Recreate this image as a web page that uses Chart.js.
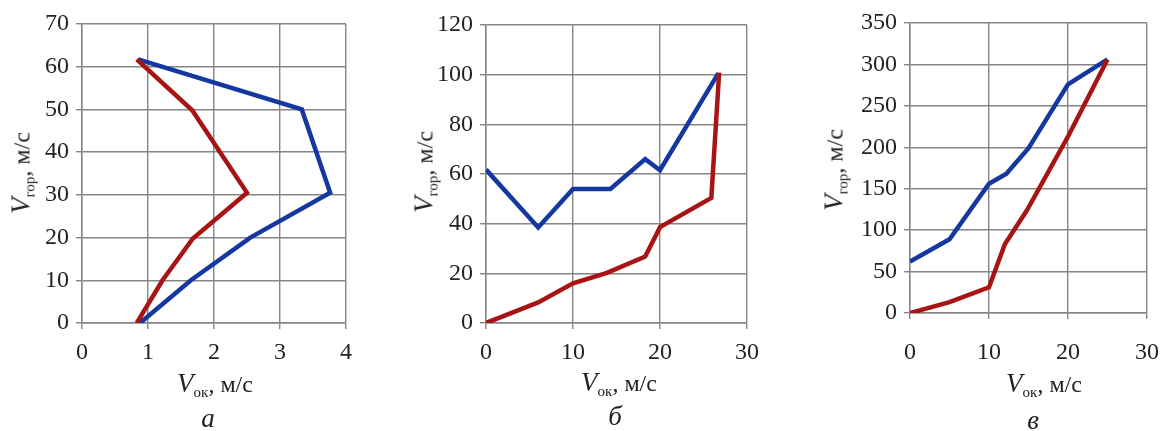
<!DOCTYPE html>
<html>
<head>
<meta charset="utf-8">
<script src="https://cdn.jsdelivr.net/npm/chart.js@4"></script>
<style>
  body { margin: 0; background: #fff; }
  #wrap { position: relative; width: 1161px; height: 431px; overflow: hidden; font-family: 'Liberation Serif', 'Times New Roman', serif; color: #222; }
  canvas { position: absolute; left: 0; top: 0; }
  .t { position: absolute; white-space: nowrap; font-size: 24px; line-height: 1; transform: translate(-50%, -50%); }
  .t i { font-size: 27px; }
  .t sub { font-size: 15px; vertical-align: -5px; line-height: 0; }
  .yt { transform: translate(-50%, -50%) rotate(-90deg); }
  .lbl { position: absolute; font-size: 27px; font-style: italic; transform: translate(-50%, -50%); }
</style>
</head>
<body>
<div id="wrap">
  <canvas id="ca" width="1161" height="431"></canvas>
  <canvas id="cb" width="1161" height="431"></canvas>
  <canvas id="cc" width="1161" height="431"></canvas>

  <div class="t yt" style="left:21px;top:173px"><i>V</i><sub>гор</sub>, м/с</div>
  <div class="t yt" style="left:424px;top:172px"><i>V</i><sub>гор</sub>, м/с</div>
  <div class="t yt" style="left:834px;top:170px"><i>V</i><sub>гор</sub>, м/с</div>

  <div class="t" style="left:215px;top:383px"><i>V</i><sub>ок</sub>, м/с</div>
  <div class="t" style="left:619px;top:382px"><i>V</i><sub>ок</sub>, м/с</div>
  <div class="t" style="left:1044px;top:383px"><i>V</i><sub>ок</sub>, м/с</div>

  <div class="lbl" style="left:208px;top:418px">а</div>
  <div class="lbl" style="left:615px;top:416px">б</div>
  <div class="lbl" style="left:1033px;top:420px">в</div>
</div>
<script>
// panel а
const aBlueX = [0.88, 1.65, 2.55, 3.76, 3.33, 0.85];
const aBlueY = [0, 10, 20, 30.5, 50, 61.7];
const aRedX = [0.83, 1.22, 1.68, 2.5, 1.67, 0.83];
const aRedY = [0, 10, 19.8, 30.5, 49.8, 61.7];
const aTicksX = [0, 1, 2, 3, 4];
const aTicksY = [0, 10, 20, 30, 40, 50, 60, 70];

// panel б
const bBlueX = [0, 6, 10, 14.3, 18.3, 20, 26.7];
const bBlueY = [61.8, 38.5, 54, 54, 66, 61.5, 100.5];
const bRedX = [0, 6, 10, 13.9, 18.3, 20, 25.9, 26.8];
const bRedY = [0, 8.3, 16, 20.2, 26.8, 38.6, 50.4, 100.8];
const bTicksX = [0, 10, 20, 30];
const bTicksY = [0, 20, 40, 60, 80, 100, 120];

// panel в
const cBlueX = [0, 5, 10, 12.2, 15, 20, 25];
const cBlueY = [62, 89, 156, 168, 199, 276, 306];
const cRedX = [0, 5, 10, 12, 14.8, 20, 25];
const cRedY = [0, 13, 31, 83, 124, 213, 306];
const cTicksX = [0, 10, 20, 30];
const cTicksY = [0, 50, 100, 150, 200, 250, 300, 350];

const BLUE = '#1538a0';
const RED = '#a81414';
const GRID = '#858585';
const FONT = "'Liberation Serif', 'Times New Roman', serif";

function pts(xs, ys) {
  return xs.map((x, i) => ({ x: x, y: ys[i] }));
}

function makeAxis(ticks, tickPad, fitFn) {
  return {
    type: 'linear',
    min: ticks[0],
    max: ticks[ticks.length - 1],
    afterBuildTicks: s => { s.ticks = ticks.map(v => ({ value: v })); },
    afterFit: fitFn,
    grid: { color: GRID, lineWidth: 1.4, tickLength: 6, tickColor: GRID },
    border: { color: GRID, width: 1.4 },
    ticks: {
      padding: tickPad,
      color: '#222',
      font: { family: FONT, size: 24 }
    }
  };
}

// area = [left, top, right, bottom] of the plot box
function drawPanel(id, blueX, blueY, redX, redY, ticksX, ticksY, area, xPad) {
  const W = 1161, H = 431;
  const yW = 60, xH = 62;
  new Chart(document.getElementById(id), {
    type: 'scatter',
    data: {
      datasets: [
        { data: pts(redX, redY), borderColor: RED, borderWidth: 4.5, showLine: true, pointRadius: 0, tension: 0 },
        { data: pts(blueX, blueY), borderColor: BLUE, borderWidth: 4.5, showLine: true, pointRadius: 0, tension: 0 }
      ]
    },
    options: {
      responsive: false,
      animation: false,
      devicePixelRatio: 1,
      layout: {
        padding: { left: area[0] - yW, top: area[1], right: W - area[2], bottom: H - area[3] - xH }
      },
      plugins: { legend: { display: false }, tooltip: { enabled: false } },
      scales: {
        x: makeAxis(ticksX, xPad, s => { s.height = xH; s.paddingLeft = 0; s.paddingRight = 0; }),
        y: makeAxis(ticksY, 7, s => { s.width = yW; s.paddingTop = 0; s.paddingBottom = 0; })
      }
    }
  });
}

drawPanel('ca', aBlueX, aBlueY, aRedX, aRedY, aTicksX, aTicksY, [82, 24, 346, 323], 9);
drawPanel('cb', bBlueX, bBlueY, bRedX, bRedY, bTicksX, bTicksY, [486, 25, 747, 323], 9);
drawPanel('cc', cBlueX, cBlueY, cRedX, cRedY, cTicksX, cTicksY, [910, 23, 1147, 313], 19);
</script>
</body>
</html>
